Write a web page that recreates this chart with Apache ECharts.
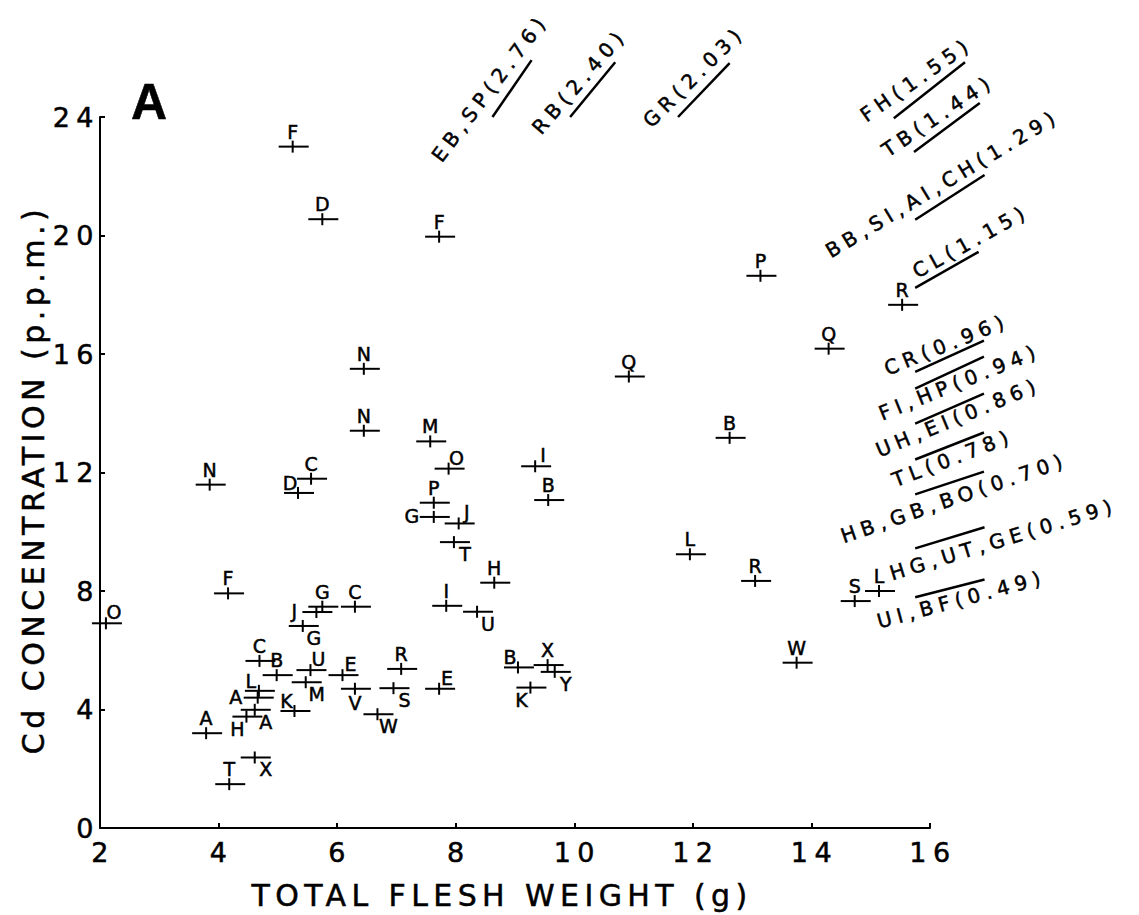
<!DOCTYPE html>
<html>
<head>
<meta charset="utf-8">
<script src="https://cdn.jsdelivr.net/npm/echarts@6/dist/echarts.min.js"></script>
<style>
html,body{margin:0;padding:0;background:#fff;}
#chart{width:1139px;height:915px;}
</style>
</head>
<body>
<div id="chart"></div>
<script>
// ---- data: sample letter, total flesh weight (g), Cd concentration (p.p.m.) ----
const labels = ['F','D','F','N','N','M','O','P','G','J',
                'T','N','C','D','I','B','Q','P','Q','R',
                'B','L','R','H','I','U','F','O','G','C',
                'J','G','C','B','U','E','M','L','A','K',
                'V','S','R','E','W','A','H','A','X','T',
                'B','X','Y','K','W','S','L'];
const weights = [5.25,5.75,7.72,6.45,6.45,7.57,7.88,7.63,7.63,8.05,
                 7.97,3.85,5.56,5.34,9.34,9.56,10.92,13.14,14.29,15.53,
                 12.62,11.95,13.05,8.65,7.84,8.36,4.16,2.10,5.75,6.30,
                 5.65,5.42,4.69,4.98,5.55,6.09,5.47,4.68,4.66,5.28,
                 6.30,6.95,7.08,7.72,6.68,3.79,4.47,4.61,4.61,4.18,
                 9.05,9.55,9.67,9.26,13.75,14.73,15.14];
const cdConc = [23.0,20.55,19.96,15.5,13.41,13.05,12.13,10.98,10.5,10.28,
                9.65,11.59,11.79,11.31,12.21,11.07,15.24,18.64,16.18,17.66,
                13.17,9.24,8.34,8.28,7.5,7.3,7.92,6.91,7.47,7.47,
                7.29,6.82,5.64,5.16,5.33,5.16,4.92,4.63,4.4,3.95,
                4.7,4.72,5.37,4.7,3.84,3.2,3.76,3.99,2.38,1.48,
                5.42,5.5,5.27,4.74,5.58,7.66,8.0];
// label placement code per point (t=top, tr=top-right, br=bottom-right, ...)
const labelPlace = ['t','t','t','t','t','t','tr','t','l','tr',
                    'br','t','t','tl','tr','t','t','t','t','t',
                    't','t','t','t','t','br','t','tr','t','t',
                    'l','br','t','t','tr','tr','br','tl','l','tl',
                    'b','br','t','tr','br','t','bl','br','br','t',
                    'tl','t','br','bl','t','t','t'];

// ---- axis ticks ----
const xTicks = [2,4,6,8,10,12,14,16];
const yTicks = [0,4,8,12,16,20,24];

// ---- annotations (species codes with values) ----
const annoText = ['EB,SP(2.76)','RB(2.40)','GR(2.03)','FH(1.55)','TB(1.44)','BB,SI,AI,CH(1.29)','CL(1.15)',
                  'CR(0.96)','FI,HP(0.94)','UH,EI(0.86)','TL(0.78)','HB,GB,BO(0.70)','HG,UT,GE(0.59)','UI,BF(0.49)'];
const annoX = [7.75,9.43,11.29,14.92,15.28,14.32,15.78,15.28,15.19,15.14,15.41,14.54,15.36,15.14];
const annoY = [22.45,23.39,23.63,23.83,22.65,19.25,18.57,15.30,13.78,12.54,11.53,9.64,8.39,6.77];
const annoAngle = [53,49,45,35,34,31,29,22,22,22.5,21,19,17,15];
// underline / overline segments beside the annotations
const ulX1 = [8.62,9.93,11.75,15.39,15.73,15.75,15.75,15.75,15.75,15.75,15.75,15.75,15.75,15.75];
const ulY1 = [24.0,24.0,24.0,23.96,22.82,20.53,18.23,15.40,14.83,13.65,12.44,11.26,9.44,7.79];
const ulX2 = [9.28,10.69,12.62,16.59,16.84,16.92,16.82,16.91,16.91,16.91,16.91,16.91,16.92,16.92];
const ulY2 = [25.92,25.85,25.82,25.85,24.47,22.04,19.45,16.45,15.91,14.66,13.35,12.03,10.15,8.39];

const FONT = '"DejaVu Sans", "Liberation Sans", sans-serif';
const OFF = {t:[0,-15], tr:[8,-11], r:[14,0], br:[11,12], b:[0,14], bl:[-9,12], l:[-22,-1], tl:[-8,-10]};
const HL = 14, HR = 16, VH = 6;

const chart = echarts.init(document.getElementById('chart'), null, {renderer:'svg', width:1139, height:915});

const option = {
  animation: false,
  backgroundColor: '#fff',
  title: {
    text: 'A', left: 126, top: 72,
    textStyle: {fontSize: 50, fontWeight: 'bold', fontFamily: '"Liberation Sans Narrow", "Liberation Sans", sans-serif', color: '#000'}
  },
  grid: {left: 100, right: 209, top: 117, bottom: 86, containLabel: false},
  xAxis: {
    type: 'value', min: xTicks[0], max: xTicks[xTicks.length-1], interval: 2,
    name: 'TOTAL FLESH WEIGHT (g)', nameLocation: 'middle', nameGap: 52,
    nameTextStyle: {fontSize: 30, fontFamily: FONT, color: '#000', padding: [0, 26, 0, 0]},
    axisLine: {show: true, lineStyle: {color: '#000', width: 2}},
    axisTick: {show: true, inside: true, length: 5, lineStyle: {color: '#000', width: 2}},
    axisLabel: {fontSize: 27, fontFamily: FONT, color: '#000', margin: 11, padding: [0,0,0,6]},
    splitLine: {show: false}
  },
  yAxis: {
    type: 'value', min: yTicks[0], max: yTicks[yTicks.length-1], interval: 4,
    name: 'Cd CONCENTRATION (p.p.m.)', nameLocation: 'middle', nameGap: 52, nameRotate: 90,
    nameTextStyle: {fontSize: 30, fontFamily: FONT, color: '#000', padding: [0, 14, 0, 0]},
    axisLine: {show: true, lineStyle: {color: '#000', width: 2}},
    axisTick: {show: true, inside: true, length: 5, lineStyle: {color: '#000', width: 2}},
    axisLabel: {fontSize: 27, fontFamily: FONT, color: '#000', margin: 0},
    splitLine: {show: false}
  },
  series: [
    {
      type: 'custom', name: 'samples', silent: true,
      data: weights.map((w, i) => [w, cdConc[i], i]),
      encode: {x: 0, y: 1},
      renderItem: function (params, api) {
        const i = api.value(2);
        const p = api.coord([api.value(0), api.value(1)]);
        const o = OFF[labelPlace[i]];
        return {
          type: 'group',
          children: [
            {type: 'line', shape: {x1: p[0]-HL, y1: p[1], x2: p[0]+HR, y2: p[1]}, style: {stroke: '#000', lineWidth: 2}},
            {type: 'line', shape: {x1: p[0], y1: p[1]-VH, x2: p[0], y2: p[1]+VH}, style: {stroke: '#000', lineWidth: 2}},
            {type: 'text', x: p[0]+o[0], y: p[1]+o[1],
             style: {text: labels[i], fill: '#000', font: '19px ' + FONT, align: 'center', verticalAlign: 'middle'}}
          ]
        };
      }
    },
    {
      type: 'custom', name: 'annotations', silent: true, clip: false,
      data: annoX.map((x, i) => [x, annoY[i], i]),
      encode: {x: 0, y: 1},
      renderItem: function (params, api) {
        const i = api.value(2);
        const p = api.coord([api.value(0), api.value(1)]);
        return {
          type: 'text', x: p[0], y: p[1], rotation: annoAngle[i] * Math.PI / 180,
          style: {text: annoText[i], x: 0, y: 4, fill: '#000', font: '20px ' + FONT, align: 'left', verticalAlign: 'bottom'}
        };
      }
    },
    {
      type: 'custom', name: 'underlines', silent: true, clip: false,
      data: ulX1.map((x, i) => [x, ulY1[i], ulX2[i], ulY2[i]]),
      encode: {x: [0, 2], y: [1, 3]},
      renderItem: function (params, api) {
        const a = api.coord([api.value(0), api.value(1)]);
        const b = api.coord([api.value(2), api.value(3)]);
        return {type: 'line', shape: {x1: a[0], y1: a[1], x2: b[0], y2: b[1]}, style: {stroke: '#000', lineWidth: 2.5}};
      }
    }
  ]
};
chart.setOption(option);

function spaceText() {
  document.querySelectorAll('#chart svg text').forEach(function (t) {
    const s = t.textContent;
    if (!s) return;
    t.style.stroke = '#000';
    t.style.strokeWidth = '0.5px';
    let ls = null;
    if (/^\d+$/.test(s)) ls = '0.24em';
    else if (s.length < 2) ls = null;
    else if (s.indexOf('TOTAL') === 0) ls = '0.18em';
    else if (s.indexOf('Cd') === 0) ls = '0.15em';
    else ls = '0.28em';
    if (ls) t.style.letterSpacing = ls;
  });
}
spaceText();
chart.on('finished', spaceText);
setTimeout(spaceText, 50);
</script>
</body>
</html>
